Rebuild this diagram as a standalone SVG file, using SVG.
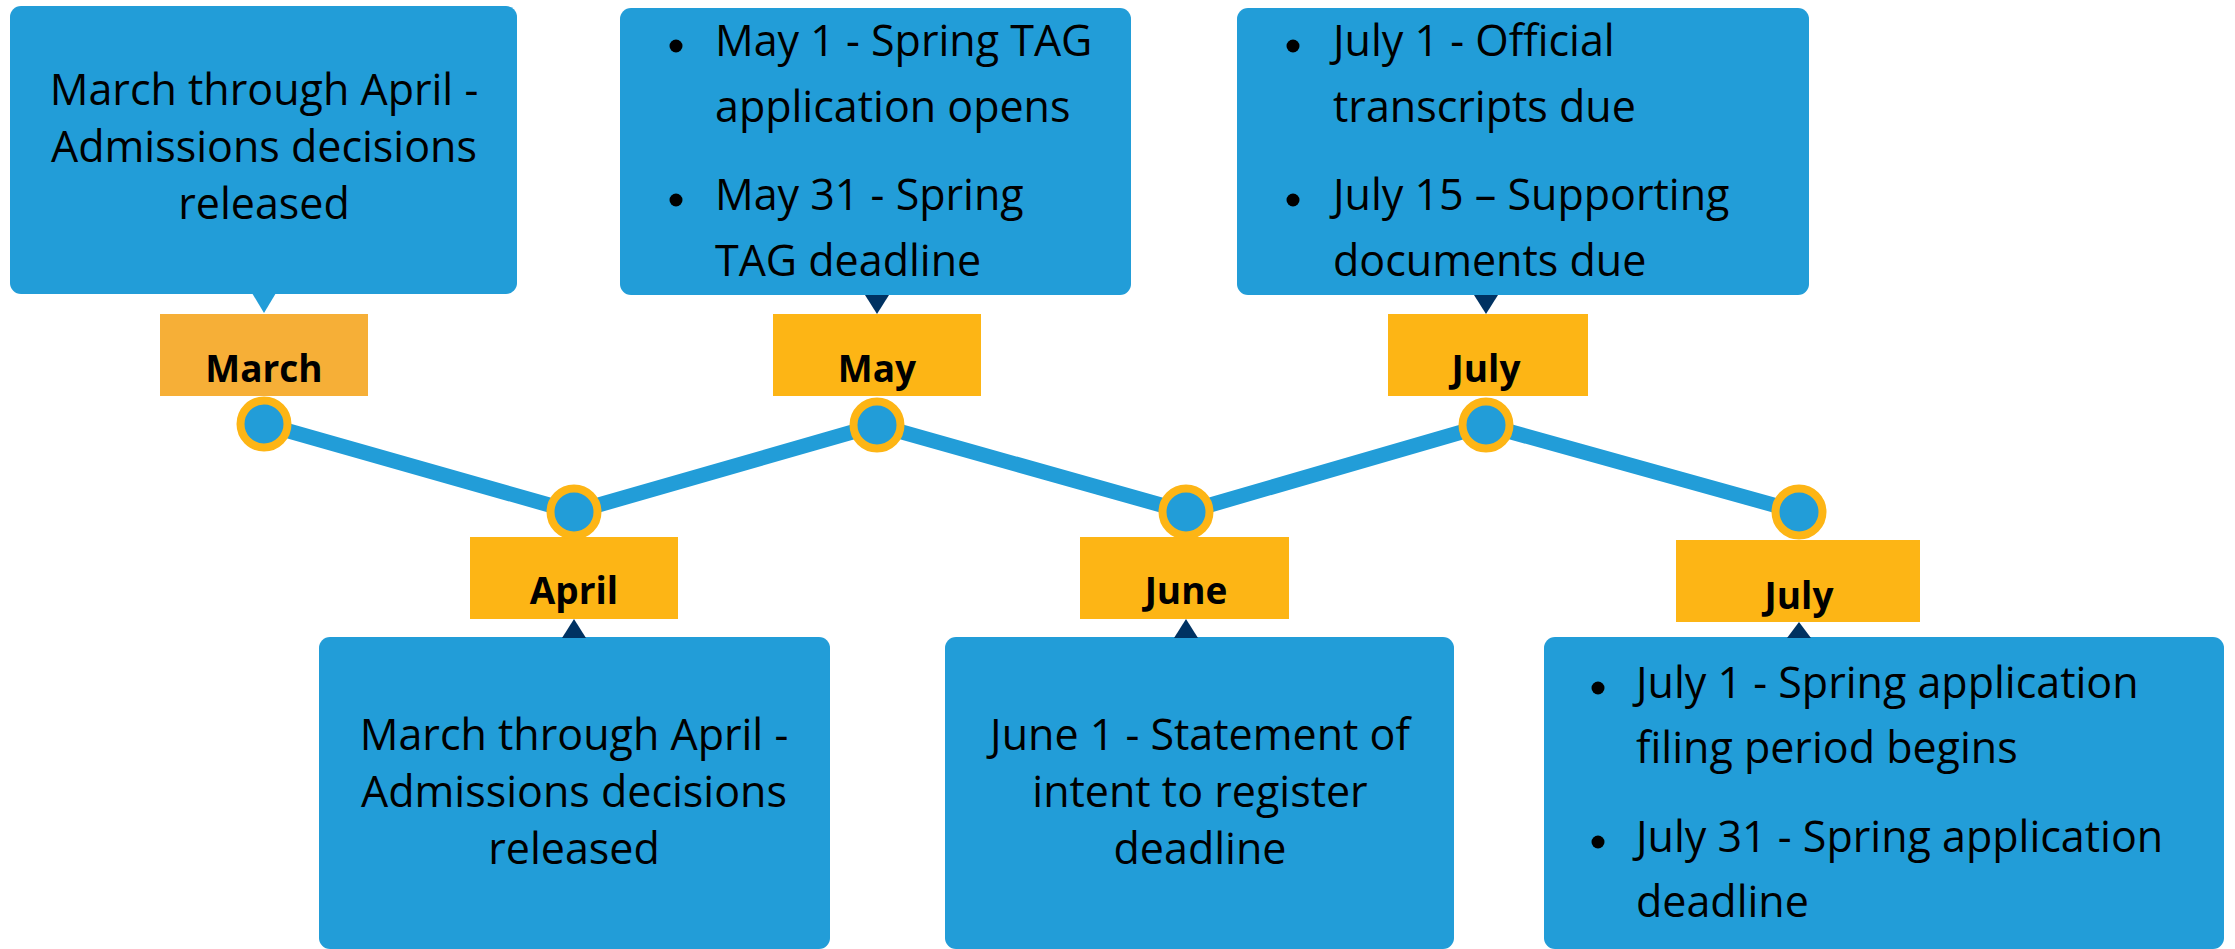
<svg xmlns="http://www.w3.org/2000/svg" width="2235" height="949" viewBox="0 0 2235 949">
<style>
.box{fill:#229DD8}
.lab{fill:#FDB515}
.lab0{fill:#F6AF37}
.navy{fill:#003262}
.t{font-family:"Open Sans","Liberation Sans",sans-serif;font-size:43px;fill:#000}
.c{text-anchor:middle}
.m{font-family:"Open Sans","Liberation Sans",sans-serif;font-size:37px;font-weight:bold;fill:#000;text-anchor:middle}
.dot{fill:#000}
.node{fill:#229DD8;stroke:#FDB515;stroke-width:8}
.line{fill:none;stroke:#229DD8;stroke-width:15;stroke-linejoin:round}
</style>
<rect width="2235" height="949" fill="#fff"/>
<g id="connectors">
<polyline class="line" points="264,424 574,512 877,425 1186,512 1486,425 1799,512"/>
</g>
<g id="callout-march">
<rect class="box" x="10" y="6" width="507" height="288" rx="11"/>
<polygon class="box" points="252,293 276,293 264,313"/>
<text class="t c" x="264" y="105">March through April -</text>
<text class="t c" x="264" y="162">Admissions decisions</text>
<text class="t c" x="264" y="219">released</text>
</g>
<g id="callout-may">
<rect class="box" x="620" y="8" width="511" height="287" rx="11"/>
<polygon class="navy" points="865,295 889,295 877,314"/>
<circle class="dot" cx="676" cy="46" r="6.5"/>
<text class="t" x="715" y="56">May 1 - Spring TAG</text>
<text class="t" x="715" y="122">application opens</text>
<circle class="dot" cx="676" cy="200" r="6.5"/>
<text class="t" x="715" y="210">May 31 - Spring</text>
<text class="t" x="715" y="276">TAG deadline</text>
</g>
<g id="callout-july">
<rect class="box" x="1237" y="8" width="572" height="287" rx="11"/>
<polygon class="navy" points="1474,295 1498,295 1486,314"/>
<circle class="dot" cx="1293" cy="46" r="6.5"/>
<text class="t" x="1333" y="56">July 1 - Official</text>
<text class="t" x="1333" y="122">transcripts due</text>
<circle class="dot" cx="1293" cy="200" r="6.5"/>
<text class="t" x="1333" y="210">July 15 – Supporting</text>
<text class="t" x="1333" y="276">documents due</text>
</g>
<g id="callout-april">
<rect class="box" x="319" y="637" width="511" height="312" rx="11"/>
<polygon class="navy" points="562,638 586,638 574,619"/>
<text class="t c" x="574" y="750">March through April -</text>
<text class="t c" x="574" y="807">Admissions decisions</text>
<text class="t c" x="574" y="864">released</text>
</g>
<g id="callout-june">
<rect class="box" x="945" y="637" width="509" height="312" rx="11"/>
<polygon class="navy" points="1174,638 1198,638 1186,619"/>
<text class="t c" x="1200" y="750">June 1 - Statement of</text>
<text class="t c" x="1200" y="807">intent to register</text>
<text class="t c" x="1200" y="864">deadline</text>
</g>
<g id="callout-july2">
<rect class="box" x="1544" y="637" width="680" height="312" rx="11"/>
<polygon class="navy" points="1787,638 1811,638 1799,622"/>
<circle class="dot" cx="1598" cy="688" r="6.5"/>
<text class="t" x="1636" y="698">July 1 - Spring application</text>
<text class="t" x="1636" y="763">filing period begins</text>
<circle class="dot" cx="1598" cy="842" r="6.5"/>
<text class="t" x="1636" y="852">July 31 - Spring application</text>
<text class="t" x="1636" y="917">deadline</text>
</g>
<g id="label-march">
<rect class="lab0" x="160" y="314" width="208" height="82"/>
<text class="m" x="264" y="382">March</text>
</g>
<g id="label-may">
<rect class="lab" x="773" y="314" width="208" height="82"/>
<text class="m" x="877" y="382">May</text>
</g>
<g id="label-july">
<rect class="lab" x="1388" y="314" width="200" height="82"/>
<text class="m" x="1486" y="382">July</text>
</g>
<g id="label-april">
<rect class="lab" x="470" y="537" width="208" height="82"/>
<text class="m" x="574" y="604">April</text>
</g>
<g id="label-june">
<rect class="lab" x="1080" y="537" width="209" height="82"/>
<text class="m" x="1186" y="604">June</text>
</g>
<g id="label-july2">
<rect class="lab" x="1676" y="540" width="244" height="82"/>
<text class="m" x="1799" y="609">July</text>
</g>
<g id="nodes">
<circle class="node" cx="264" cy="424" r="23.5"/>
<circle class="node" cx="574" cy="512" r="23.5"/>
<circle class="node" cx="877" cy="425" r="23.5"/>
<circle class="node" cx="1186" cy="512" r="23.5"/>
<circle class="node" cx="1486" cy="425" r="23.5"/>
<circle class="node" cx="1799" cy="512" r="23.5"/>
</g>
</svg>
